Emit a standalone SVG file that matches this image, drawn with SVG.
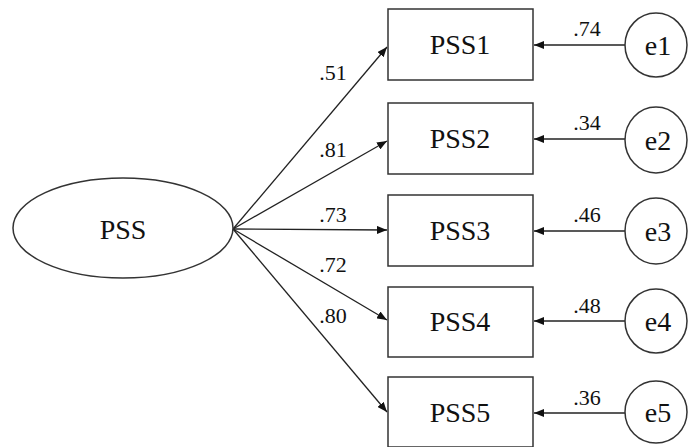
<svg xmlns="http://www.w3.org/2000/svg" width="689" height="447" viewBox="0 0 689 447">
<style>
.shape{fill:#fff;stroke:#333;stroke-width:1.5}
.lbl{font-family:'Liberation Serif','DejaVu Serif',serif;font-size:28px;fill:#111;text-anchor:middle}
.num{font-family:'Liberation Serif','DejaVu Serif',serif;font-size:22px;fill:#111;text-anchor:middle}
.edge{stroke:#222;stroke-width:1.3;fill:none;marker-end:url(#ah)}
</style>
<defs>
<marker id="ah" markerWidth="10" markerHeight="8" refX="10" refY="4" orient="auto" markerUnits="userSpaceOnUse">
<path d="M0,0 L10,4 L0,8 Z" fill="#111"/>
</marker>
</defs>
<rect width="689" height="447" fill="#fff"/>
<g id="connectors">
<line class="edge" x1="233" y1="229" x2="387" y2="47"/>
<line class="edge" x1="233" y1="229" x2="387" y2="141"/>
<line class="edge" x1="233" y1="229" x2="387" y2="230"/>
<line class="edge" x1="233" y1="229" x2="387" y2="320"/>
<line class="edge" x1="233" y1="229" x2="387" y2="412"/>
<line class="edge" x1="625" y1="45" x2="534" y2="45"/>
<line class="edge" x1="625" y1="139" x2="534" y2="139"/>
<line class="edge" x1="625" y1="231" x2="534" y2="231"/>
<line class="edge" x1="625" y1="321" x2="534" y2="321"/>
<line class="edge" x1="625" y1="413" x2="534" y2="413"/>
<text class="num" x="333" y="80">.51</text>
<text class="num" x="333" y="157">.81</text>
<text class="num" x="333" y="222">.73</text>
<text class="num" x="333" y="272">.72</text>
<text class="num" x="333" y="323">.80</text>
<text class="num" x="587" y="36">.74</text>
<text class="num" x="587" y="130">.34</text>
<text class="num" x="587" y="222">.46</text>
<text class="num" x="587" y="313">.48</text>
<text class="num" x="587" y="405">.36</text>
</g>
<g id="PSS">
<ellipse class="shape" cx="123" cy="228" rx="110" ry="50"/>
<text class="lbl" x="123" y="239">PSS</text>
</g>
<g id="PSS1">
<rect class="shape" x="388" y="9" width="145" height="71"/>
<text class="lbl" x="460" y="54">PSS1</text>
</g>
<g id="PSS2">
<rect class="shape" x="388" y="103" width="145" height="71"/>
<text class="lbl" x="460" y="148">PSS2</text>
</g>
<g id="PSS3">
<rect class="shape" x="388" y="195" width="145" height="71"/>
<text class="lbl" x="460" y="240">PSS3</text>
</g>
<g id="PSS4">
<rect class="shape" x="388" y="287" width="145" height="70"/>
<text class="lbl" x="460" y="331">PSS4</text>
</g>
<g id="PSS5">
<rect class="shape" x="388" y="377" width="145" height="70"/>
<text class="lbl" x="460" y="422">PSS5</text>
</g>
<g id="e1">
<ellipse class="shape" cx="656" cy="45" rx="31" ry="32"/>
<text class="lbl" x="658" y="55">e1</text>
</g>
<g id="e2">
<ellipse class="shape" cx="656" cy="140" rx="31" ry="33"/>
<text class="lbl" x="658" y="150">e2</text>
</g>
<g id="e3">
<ellipse class="shape" cx="656" cy="231" rx="31" ry="33"/>
<text class="lbl" x="658" y="241">e3</text>
</g>
<g id="e4">
<ellipse class="shape" cx="656" cy="321" rx="31" ry="32"/>
<text class="lbl" x="658" y="331">e4</text>
</g>
<g id="e5">
<ellipse class="shape" cx="656" cy="412" rx="31" ry="31"/>
<text class="lbl" x="658" y="422">e5</text>
</g>
</svg>
